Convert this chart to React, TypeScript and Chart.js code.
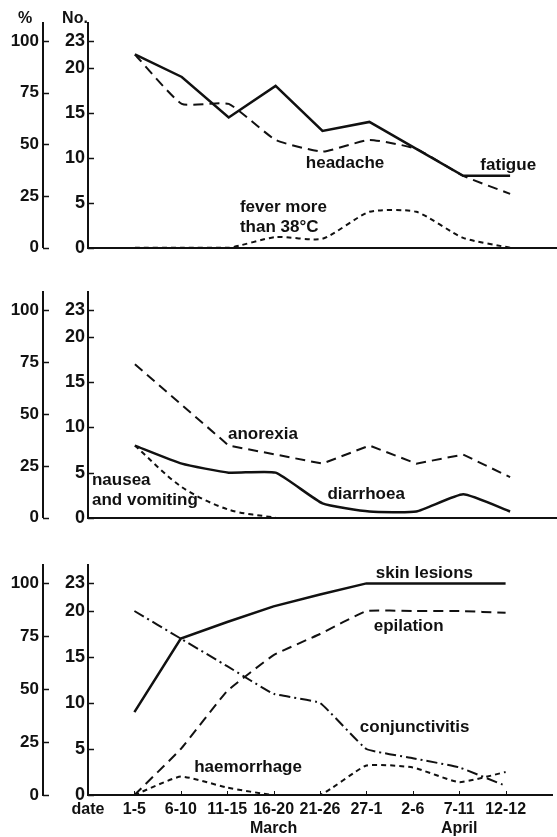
import React, { useEffect, useRef } from 'react';
import { Chart, registerables } from 'chart.js';

Chart.register(...registerables);

const INK = '#111111';
const FONT = '"Liberation Sans", Arial, sans-serif';

// ---- categories / ticks ----
const periods = ['date', '1-5', '6-10', '11-15', '16-20', '21-26', '27-1', '2-6', '7-11', '12-12', ''];
const months = ['', '', '', '', 'March', '', '', '', 'April', '', ''];
const countTicks = [0, 5, 10, 15, 20, 23];
const percentTicks = [0, 25, 50, 75, 100];
const totalCases = 23;
const countAxisMax = 25;

// ---- panel 1 ----
const fatigue = [null, 21.5, 19, 14.5, 18, 13, 14, 11, 8, 8, null];
const headache = [null, 21.5, 16, 16, 12, 10.7, 12, 11, 8, 6, null];
const fever = [null, 0, 0, 0, 1.2, 1, 4, 4, 1.1, 0, null];

// ---- panel 2 ----
const anorexia = [null, 17, 12.5, 8, 7, 6, 8, 6, 7, 4.5, null];
const diarrhoea = [null, 8, 6, 5, 5, 1.6, 0.7, 0.7, 2.6, 0.7, null];
const nausea = [null, 8, 3.4, 0.9, 0, null, null, null, null, null, null];

// ---- panel 3 ----
const skinLesions = [null, 9, 17, 18.8, 20.5, 21.8, 23, 23, 23, 23, null];
const epilation = [null, 0, 5, 11.3, 15.2, 17.5, 20, 20, 20, 19.8, null];
const conjunctivitis = [null, 20, 17, 14, 11, 10, 5, 4, 3, 1, null];
const haemorrhage = [null, 0, 2, 0.8, 0, 0, 3.2, 3, 1.4, 2.5, null];

const SOLID: number[] = [];
const LONG = [10, 6];
const SHORT = [5, 4];
const DASHDOT = [11, 4, 2, 4];

const panels = [
  {
    top: 0, height: 262, padTop: 23, xHeight: 14, showX: false, titles: true, xTicks: false,
    series: [
      { data: fatigue, dash: SOLID, width: 2.5, tension: 0 },
      { data: headache, dash: LONG, width: 2, tension: 0.15 },
      { data: fever, dash: SHORT, width: 2, tension: 0.2 },
    ],
    notes: [
      { text: ['headache'], x: 5.48, y: 9.4, align: 'center' },
      { text: ['fatigue'], x: 8.96, y: 9.2, align: 'center' },
      { text: ['fever more', 'than 38°C'], x: 3.24, y: 4.5, align: 'left' },
    ],
  },
  {
    top: 270, height: 262, padTop: 22, xHeight: 14, showX: false, titles: false, xTicks: false,
    series: [
      { data: diarrhoea, dash: SOLID, width: 2.5, tension: 0.15 },
      { data: anorexia, dash: LONG, width: 2, tension: 0 },
      { data: nausea, dash: SHORT, width: 2, tension: 0.3 },
    ],
    notes: [
      { text: ['anorexia'], x: 3.73, y: 9.2, align: 'center' },
      { text: ['diarrhoea'], x: 5.93, y: 2.65, align: 'center' },
      { text: ['nausea', 'and vomiting'], x: 0.085, y: 4.1, align: 'left' },
    ],
  },
  {
    top: 540, height: 297, padTop: 25, xHeight: 42, showX: true, titles: false, xTicks: true,
    series: [
      { data: skinLesions, dash: SOLID, width: 2.5, tension: 0 },
      { data: epilation, dash: LONG, width: 2, tension: 0.1 },
      { data: conjunctivitis, dash: DASHDOT, width: 2, tension: 0.1 },
      { data: haemorrhage, dash: SHORT, width: 2, tension: 0.15 },
    ],
    notes: [
      { text: ['skin lesions'], x: 7.25, y: 24.1, align: 'center' },
      { text: ['epilation'], x: 6.91, y: 18.3, align: 'center' },
      { text: ['conjunctivitis'], x: 7.04, y: 7.4, align: 'center' },
      { text: ['haemorrhage'], x: 3.45, y: 3.0, align: 'center' },
    ],
  },
];

const decorPlugin = {
  id: 'decor',
  afterDraw(chart: any, _args: any, opts: any) {
    const ctx = chart.ctx;
    const xs = chart.scales.x;
    const ys = chart.scales.y;
    const ps = chart.scales.y2;
    ctx.save();
    ctx.strokeStyle = INK;
    ctx.lineWidth = 1.5;
    // inward tick marks on both vertical axes
    [ys, ps].forEach((s: any) => {
      s.ticks.forEach((t: any) => {
        const py = Math.round(s.getPixelForValue(t.value)) + 0.5;
        ctx.beginPath();
        ctx.moveTo(s.right, py);
        ctx.lineTo(s.right + 6, py);
        ctx.stroke();
      });
    });
    if (opts.xTicks) {
      ctx.lineWidth = 1;
      for (let i = 1; i < periods.length - 1; i++) {
        const px = Math.round(xs.getPixelForValue(i)) + 0.5;
        ctx.beginPath();
        ctx.moveTo(px, xs.top);
        ctx.lineTo(px, xs.top - 4);
        ctx.stroke();
      }
    }
    ctx.fillStyle = INK;
    ctx.font = `bold 17px ${FONT}`;
    ctx.textBaseline = 'middle';
    (opts.notes || []).forEach((n: any) => {
      ctx.textAlign = n.align;
      const px = xs.getPixelForValue(n.x);
      const py = ys.getPixelForValue(n.y);
      n.text.forEach((line: string, i: number) => {
        ctx.fillText(line, px, py + i * 20);
      });
    });
    if (opts.titles) {
      ctx.font = `bold 16px ${FONT}`;
      ctx.textAlign = 'center';
      ctx.fillText('%', ps.right - 18, chart.chartArea.top - 4);
      ctx.fillText('No.', ys.right - 13, chart.chartArea.top - 4);
    }
    ctx.restore();
  },
};

function Panel({ cfg }: { cfg: any }) {
  const ref = useRef<HTMLCanvasElement | null>(null);
  useEffect(() => {
    const labels = periods.map((p, i) => (months[i] ? [p, months[i]] : p));
    const chart = new Chart(ref.current as HTMLCanvasElement, {
      type: 'line',
      data: {
        labels,
        datasets: cfg.series.map((s: any) => ({
          data: s.data,
          borderColor: INK,
          borderWidth: s.width,
          borderDash: s.dash,
          tension: s.tension,
          pointRadius: 0,
          fill: false,
          yAxisID: 'y',
        })),
      },
      options: {
        responsive: false,
        animation: false,
        layout: { padding: { top: cfg.padTop, left: 0, right: 0, bottom: 0 } },
        plugins: {
          legend: { display: false },
          tooltip: { enabled: false },
          decor: { notes: cfg.notes, titles: cfg.titles, xTicks: cfg.xTicks },
        } as any,
        scales: {
          x: {
            type: 'category',
            offset: false,
            grid: { display: true, drawOnChartArea: false, drawTicks: false },
            border: { display: true, color: INK, width: 2 },
            ticks: {
              display: cfg.showX,
              autoSkip: false,
              maxRotation: 0,
              color: INK,
              padding: 5,
              font: { family: FONT, size: 16, weight: 'bold', lineHeight: 1.2 },
            },
            afterFit: (s: any) => { s.height = cfg.xHeight; },
          },
          y: {
            position: 'left',
            weight: 0,
            min: 0,
            max: countAxisMax,
            grid: { display: true, drawOnChartArea: false, drawTicks: false },
            border: { display: true, color: INK, width: 2 },
            ticks: { color: INK, padding: 3, font: { family: FONT, size: 18, weight: 'bold' } },
            afterBuildTicks: (s: any) => { s.ticks = countTicks.map((v) => ({ value: v })); },
            afterFit: (s: any) => { s.width = 45; },
          },
          y2: {
            position: 'left',
            weight: 1,
            min: 0,
            max: (countAxisMax / totalCases) * 100,
            grid: { display: true, drawOnChartArea: false, drawTicks: false },
            border: { display: true, color: INK, width: 2 },
            ticks: { color: INK, padding: 4, font: { family: FONT, size: 17, weight: 'bold' } },
            afterBuildTicks: (s: any) => { s.ticks = percentTicks.map((v) => ({ value: v })); },
            afterFit: (s: any) => { s.width = 43; },
          },
        } as any,
      },
      plugins: [decorPlugin as any],
    });
    return () => chart.destroy();
  }, []);
  return (
    <canvas
      ref={ref}
      width={557}
      height={cfg.height}
      style={{ position: 'absolute', left: 0, top: cfg.top, width: 557, height: cfg.height }}
    />
  );
}

export default function App() {
  return (
    <div style={{ position: 'absolute', left: 0, top: 0, width: 557, height: 837, background: '#fff' }}>
      {panels.map((p, i) => (
        <Panel key={i} cfg={p} />
      ))}
    </div>
  );
}
